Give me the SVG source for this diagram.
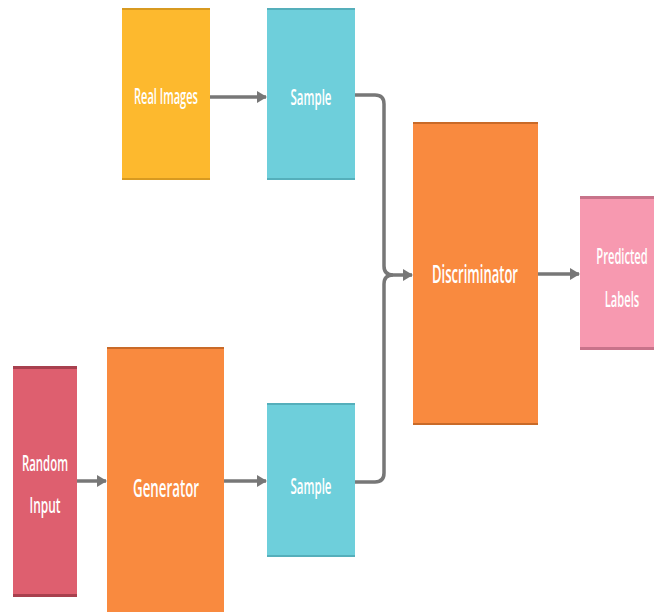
<svg xmlns="http://www.w3.org/2000/svg" width="654" height="613" viewBox="0 0 654 613">
<style>
.t{font-family:"Open Sans","Liberation Sans",sans-serif;fill:#fff;text-anchor:middle;font-weight:600;}
.s{font-size:21px;}
.l{font-size:25px;}
.c{fill:none;stroke:#777;stroke-width:3.5;}
</style>
<defs>
<marker id="ah" viewBox="0 0 10 12" refX="9" refY="6" markerWidth="10" markerHeight="12" markerUnits="userSpaceOnUse" orient="auto">
<path d="M0,0 L10,6 L0,12 Z" fill="#777"/>
</marker>
</defs>
<rect width="654" height="613" fill="#fff"/>
<g id="connectors">
<path class="c" d="M210,97 H266" marker-end="url(#ah)"/>
<path class="c" d="M355,95 H375 Q384,95 384,104 V266 Q384,275 393,275 H412" marker-end="url(#ah)"/>
<path class="c" d="M355,482 H375 Q384,482 384,473 V284 Q384,275 393,275"/>
<path class="c" d="M538,274 H579" marker-end="url(#ah)"/>
<path class="c" d="M77,481 H106" marker-end="url(#ah)"/>
<path class="c" d="M224,481 H266" marker-end="url(#ah)"/>
</g>
<g id="real-images">
<rect x="122" y="8" width="88" height="172" fill="#FDB92E"/>
<rect x="122" y="8" width="88" height="2" fill="#D89A20"/>
<rect x="122" y="178" width="88" height="2" fill="#D89A20"/>
<text class="t s" x="166" y="104" textLength="64" lengthAdjust="spacingAndGlyphs">Real Images</text>
</g>
<g id="sample-top">
<rect x="267" y="8" width="88" height="172" fill="#6ECFDB"/>
<rect x="267" y="8" width="88" height="2" fill="#55AFBB"/>
<rect x="267" y="178" width="88" height="2" fill="#55AFBB"/>
<text class="t s" x="311" y="105" textLength="41" lengthAdjust="spacingAndGlyphs">Sample</text>
</g>
<g id="discriminator">
<rect x="413" y="122" width="125" height="303" fill="#F98A3F"/>
<rect x="413" y="122" width="125" height="2" fill="#C96A28"/>
<rect x="413" y="423" width="125" height="2" fill="#C96A28"/>
<text class="t l" x="475" y="283" textLength="86" lengthAdjust="spacingAndGlyphs">Discriminator</text>
</g>
<g id="predicted-labels">
<rect x="580" y="196" width="76" height="154" fill="#F799B0"/>
<rect x="580" y="196" width="76" height="3" fill="#C8738A"/>
<rect x="580" y="347" width="76" height="3" fill="#C8738A"/>
<g transform="translate(622,0) scale(0.53,1)">
<text class="t s" x="0" y="264">Predicted</text>
<text class="t s" x="0" y="307">Labels</text>
</g>
</g>
<g id="random-input">
<rect x="13" y="366" width="64" height="231" fill="#DE5F6F"/>
<rect x="13" y="366" width="64" height="3" fill="#A8404E"/>
<rect x="13" y="594" width="64" height="3" fill="#A8404E"/>
<text class="t s" x="45" y="471" textLength="46" lengthAdjust="spacingAndGlyphs">Random</text>
<text class="t s" x="45" y="513" textLength="31" lengthAdjust="spacingAndGlyphs">Input</text>
</g>
<g id="generator">
<rect x="107" y="347" width="117" height="265" fill="#F98A3F"/>
<rect x="107" y="347" width="117" height="2" fill="#C96A28"/>
<text class="t l" x="166" y="497" textLength="66" lengthAdjust="spacingAndGlyphs">Generator</text>
</g>
<g id="sample-bottom">
<rect x="267" y="403" width="88" height="154" fill="#6ECFDB"/>
<rect x="267" y="403" width="88" height="2" fill="#55AFBB"/>
<rect x="267" y="555" width="88" height="2" fill="#55AFBB"/>
<text class="t s" x="311" y="494" textLength="41" lengthAdjust="spacingAndGlyphs">Sample</text>
</g>
</svg>
